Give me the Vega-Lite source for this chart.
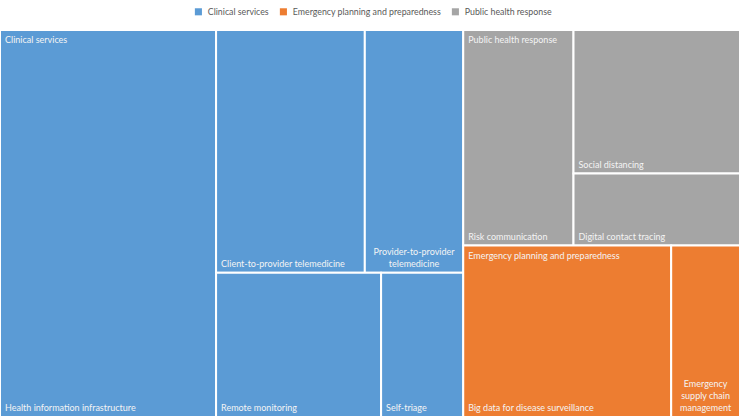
{
  "$schema": "https://vega.github.io/schema/vega-lite/v6.json",
  "width": 740,
  "height": 387,
  "autosize": "none",
  "padding": {"left": 0, "right": 0, "top": 30, "bottom": 0},
  "background": "white",
  "config": {"view": {"stroke": null}},
  "datasets": {
    "leaves": [
      {"group": "Clinical services", "label": "Health information infrastructure", "x0": 0, "x1": 29.2, "y0": 0, "y1": 100},
      {"group": "Clinical services", "label": "Client-to-provider telemedicine", "x0": 29.2, "x1": 49.3, "y0": 0, "y1": 62.7},
      {"group": "Clinical services", "label": ["Provider-to-provider", "telemedicine"], "x0": 49.3, "x1": 62.6, "y0": 0, "y1": 62.7},
      {"group": "Clinical services", "label": "Remote monitoring", "x0": 29.2, "x1": 51.5, "y0": 62.7, "y1": 100},
      {"group": "Clinical services", "label": "Self-triage", "x0": 51.5, "x1": 62.6, "y0": 62.7, "y1": 100},
      {"group": "Public health response", "label": "Risk communication", "x0": 62.6, "x1": 77.5, "y0": 0, "y1": 55.7},
      {"group": "Public health response", "label": "Social distancing", "x0": 77.5, "x1": 100, "y0": 0, "y1": 37.1},
      {"group": "Public health response", "label": "Digital contact tracing", "x0": 77.5, "x1": 100, "y0": 37.1, "y1": 55.7},
      {"group": "Emergency planning and preparedness", "label": "Big data for disease surveillance", "x0": 62.6, "x1": 90.7, "y0": 55.7, "y1": 100},
      {"group": "Emergency planning and preparedness", "label": ["Emergency", "supply chain", "management"], "x0": 90.7, "x1": 100, "y0": 55.7, "y1": 100}
    ],
    "parents": [
      {"label": "Clinical services", "x0": 0, "y0": 0},
      {"label": "Public health response", "x0": 62.6, "y0": 0},
      {"label": "Emergency planning and preparedness", "x0": 62.6, "y0": 55.7}
    ]
  },
  "layer": [
    {
      "data": {"name": "leaves"},
      "mark": {"type": "rect", "stroke": "white", "strokeWidth": 2},
      "encoding": {
        "x": {"field": "x0", "type": "quantitative", "scale": {"domain": [0, 100], "nice": false, "zero": false}, "axis": null},
        "x2": {"field": "x1"},
        "y": {"field": "y0", "type": "quantitative", "scale": {"domain": [0, 100], "nice": false, "zero": false, "reverse": true}, "axis": null},
        "y2": {"field": "y1"},
        "color": {
          "field": "group", "type": "nominal",
          "scale": {"domain": ["Clinical services", "Emergency planning and preparedness", "Public health response"], "range": ["#5B9BD5", "#ED7D31", "#A5A5A5"]},
          "legend": {"title": null, "orient": "none", "direction": "horizontal", "legendX": 194, "legendY": -23, "symbolType": "square", "symbolSize": 50, "symbolStrokeWidth": 0, "labelFont": "Lato", "labelFontSize": 8.8, "labelColor": "#595959", "labelLimit": 0, "columnPadding": 10, "labelOffset": 5}
        }
      }
    },
    {
      "data": {"name": "leaves"},
      "transform": [{"filter": "!isArray(datum.label)"}],
      "mark": {"type": "text", "align": "left", "baseline": "bottom", "dx": 5, "dy": -4, "font": "Lato", "fontSize": 9, "color": "#f4f4f4"},
      "encoding": {
        "x": {"field": "x0", "type": "quantitative"},
        "y": {"field": "y1", "type": "quantitative"},
        "text": {"field": "label"}
      }
    },
    {
      "data": {"name": "leaves"},
      "transform": [{"filter": "isArray(datum.label) && datum.label.length == 2"}, {"calculate": "(datum.x0 + datum.x1) / 2", "as": "xc"}],
      "mark": {"type": "text", "align": "center", "baseline": "bottom", "dy": -16, "lineHeight": 12, "font": "Lato", "fontSize": 9, "color": "#f4f4f4"},
      "encoding": {
        "x": {"field": "xc", "type": "quantitative"},
        "y": {"field": "y1", "type": "quantitative"},
        "text": {"field": "label"}
      }
    },
    {
      "data": {"name": "leaves"},
      "transform": [{"filter": "isArray(datum.label) && datum.label.length == 3"}, {"calculate": "(datum.x0 + datum.x1) / 2", "as": "xc"}],
      "mark": {"type": "text", "align": "center", "baseline": "bottom", "dy": -28, "lineHeight": 12, "font": "Lato", "fontSize": 9, "color": "#f4f4f4"},
      "encoding": {
        "x": {"field": "xc", "type": "quantitative"},
        "y": {"field": "y1", "type": "quantitative"},
        "text": {"field": "label"}
      }
    },
    {
      "data": {"name": "parents"},
      "mark": {"type": "text", "align": "left", "baseline": "top", "dx": 5, "dy": 6, "font": "Lato", "fontSize": 9, "color": "#f4f4f4"},
      "encoding": {
        "x": {"field": "x0", "type": "quantitative"},
        "y": {"field": "y0", "type": "quantitative"},
        "text": {"field": "label"}
      }
    }
  ]
}
